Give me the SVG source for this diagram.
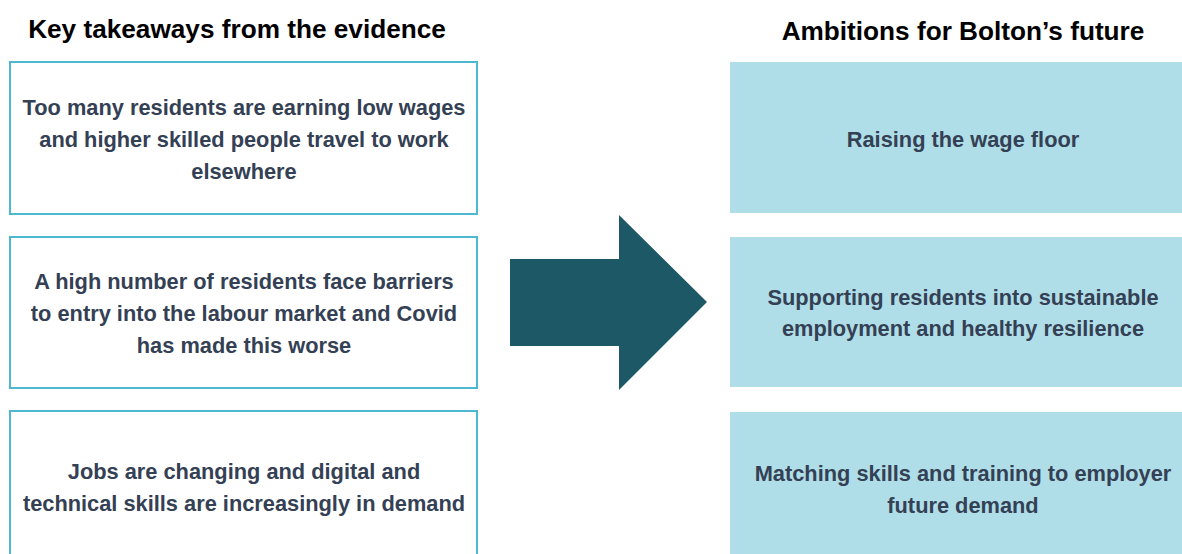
<svg xmlns="http://www.w3.org/2000/svg" width="1182" height="554" viewBox="0 0 1182 554">
<style>
.title{font-family:'Liberation Sans',Arial,sans-serif;font-weight:bold;font-size:26.2px;fill:#000;text-anchor:middle}
.body{font-family:'Liberation Sans',Arial,sans-serif;font-weight:bold;font-size:21.8px;fill:#344054;text-anchor:middle}
.lbox{fill:#fff;stroke:#4db8d0;stroke-width:2}
.rbox{fill:#b0dee8}
</style>
<rect width="1182" height="554" fill="#fff"/>
<text class="title" x="237" y="38">Key takeaways from the evidence</text>
<text class="title" x="963" y="40">Ambitions for Bolton’s future</text>
<g id="left1">
<rect class="lbox" x="10" y="62" width="467" height="152"/>
<text class="body" x="244" y="115">Too many residents are earning low wages</text>
<text class="body" x="244" y="147">and higher skilled people travel to work</text>
<text class="body" x="244" y="179">elsewhere</text>
</g>
<g id="left2">
<rect class="lbox" x="10" y="237" width="467" height="151"/>
<text class="body" x="244" y="289">A high number of residents face barriers</text>
<text class="body" x="244" y="321">to entry into the labour market and Covid</text>
<text class="body" x="244" y="353">has made this worse</text>
</g>
<g id="left3">
<rect class="lbox" x="10" y="411" width="467" height="160"/>
<text class="body" x="244" y="479">Jobs are changing and digital and</text>
<text class="body" x="244" y="511">technical skills are increasingly in demand</text>
</g>
<g id="connectors">
<polygon points="510,259 619,259 619,215 707,302 619,390 619,346 510,346" fill="#1d5866"/>
</g>
<g id="right1">
<rect class="rbox" x="730" y="62" width="460" height="151"/>
<text class="body" x="963" y="147">Raising the wage floor</text>
</g>
<g id="right2">
<rect class="rbox" x="730" y="237" width="460" height="150"/>
<text class="body" x="963" y="305">Supporting residents into sustainable</text>
<text class="body" x="963" y="336">employment and healthy resilience</text>
</g>
<g id="right3">
<rect class="rbox" x="730" y="412" width="460" height="150"/>
<text class="body" x="963" y="481">Matching skills and training to employer</text>
<text class="body" x="963" y="513">future demand</text>
</g>
</svg>
